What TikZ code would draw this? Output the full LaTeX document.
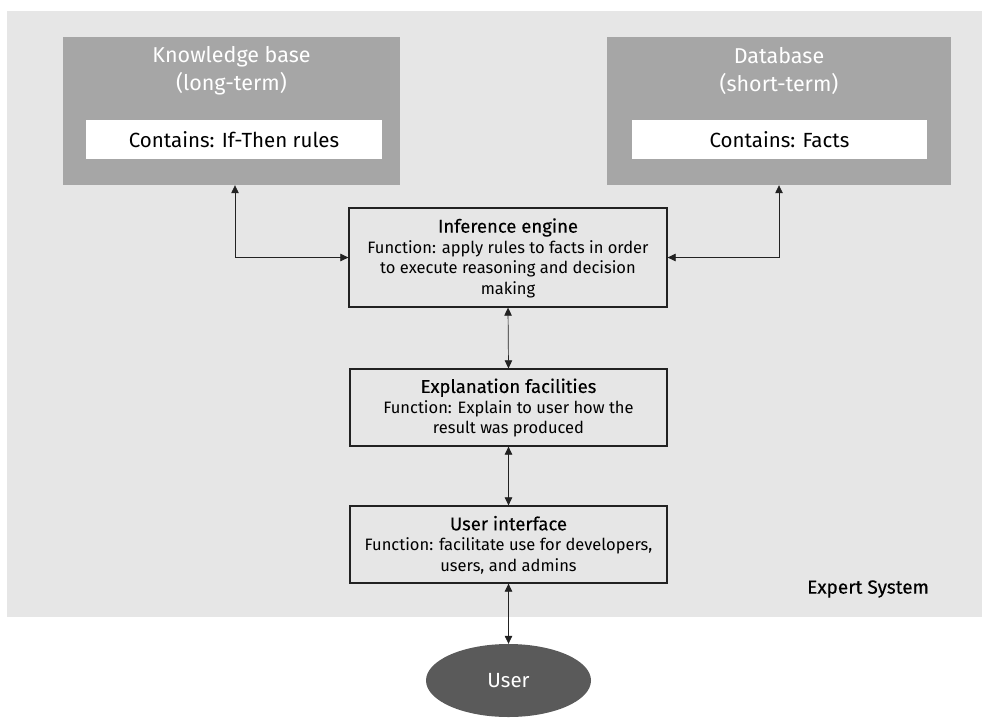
\documentclass[tikz,border=0pt]{standalone}
\usepackage{fontspec}
\setmainfont{Fira Sans}
\newfontfamily\medfont[FakeBold=0.3]{Fira Sans}
\usetikzlibrary{arrows.meta,shapes.geometric}
\definecolor{bggray}{HTML}{E6E6E6}
\definecolor{boxgray}{HTML}{A6A6A6}
\definecolor{usergray}{HTML}{5A5A5A}
\definecolor{linegray}{HTML}{222222}
\tikzset{
  store/.style={rectangle, fill=boxgray, draw=none, inner sep=0pt},
  inner/.style={rectangle, fill=white, draw=none, inner sep=0pt, minimum width=296pt, minimum height=39pt, font=\fontsize{20.5}{22}\selectfont},
  stitle/.style={align=center, text=white, font=\fontsize{21.5}{28}\selectfont},
  func/.style={rectangle, draw=linegray, line width=1.3pt, fill=bggray, inner sep=0pt},
  functext/.style={align=center, font=\fontsize{16.5}{20.5}\selectfont},
  ttl/.style={},
  arr/.style={draw=linegray, line width=0.7pt, {Triangle[length=8pt,width=7.5pt]}-{Triangle[length=8pt,width=7.5pt]}},
}
\newcommand\boxtitle[1]{{\medfont\fontsize{18.5}{20.5}\selectfont #1}}
\begin{document}
\begin{tikzpicture}[x=1pt,y=-1pt]
\useasboundingbox (0,0) rectangle (990,718);
\fill[bggray] (7,11) rectangle (982,617);
% Knowledge base
\node[store, minimum width=337pt, minimum height=148pt] (kb) at (231.5,111) {};
\node[stitle] (kbt) at (231.5,71) {Knowledge base\\(long-term)};
\node[inner] (kbin) at (234,139.5) {Contains: If-Then rules};
% Database
\node[store, minimum width=344pt, minimum height=148pt] (db) at (779,111) {};
\node[stitle] (dbt) at (779,71) {Database\\(short-term)};
\node[inner, minimum width=295pt] (dbin) at (779.5,139.5) {Contains: Facts};
% Inference engine
\node[func, minimum width=318pt, minimum height=99pt] (ie) at (508,257.5) {};
\node[functext] (iet) at (508,258)
  {\boxtitle{Inference engine}\\Function: apply rules to facts in order\\to execute reasoning and decision\\making};
% Explanation
\node[func, minimum width=317pt, minimum height=77pt] (ex) at (508.5,407.5) {};
\node[functext] (ext) at (508.5,408)
  {\boxtitle{Explanation facilities}\\Function: Explain to user how the\\result was produced};
% User interface
\node[func, minimum width=317pt, minimum height=77pt] (ui) at (508.5,544.5) {};
\node[functext] (uit) at (508.5,545)
  {\boxtitle{User interface}\\Function: facilitate use for developers,\\users, and admins};
% Expert system label
\node[font=\medfont\fontsize{19}{20}\selectfont, anchor=west, inner sep=0pt] (es) at (807,589) {Expert System};
% User
\node[ellipse, fill=usergray, draw=none, minimum width=165pt, minimum height=73pt, inner sep=0pt, text=white, font=\fontsize{20.5}{22}\selectfont] (user) at (508.5,680.5) {User};
% Connectors
\draw[arr] (ie.west) -| ([xshift=3.5pt]kb.south);
\draw[arr] (ie.east) -| (db.south);
\draw[arr] (ie.south) -- (ex.north);
\draw[arr] (ex.south) -- (ui.north);
\draw[arr] (ui.south) -- (user.north);
\end{tikzpicture}
\end{document}
